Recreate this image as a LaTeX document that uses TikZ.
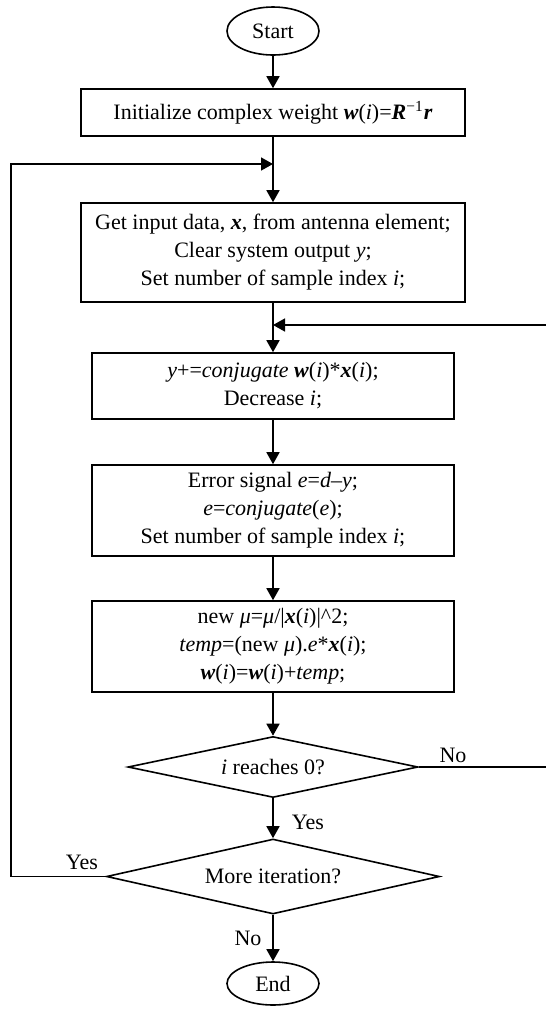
\documentclass[tikz,border=0pt]{standalone}
\usepackage{fontspec}
\setmainfont{Liberation Serif}
\usepackage{tikz}
\usetikzlibrary{arrows.meta,shapes}
\tikzstyle{block}=[draw,rectangle,line width=0.8pt,align=center,inner sep=2pt]
\tikzstyle{term}=[draw,ellipse,line width=0.8pt,inner sep=0pt,minimum width=46pt]
\tikzstyle{decision}=[draw,diamond,line width=0.8pt,inner sep=0pt]
\tikzstyle{lbl}=[inner sep=0pt]
\tikzstyle{edge} = [draw,line width=0.8pt,-{Triangle[length=6pt,width=6.5pt]}]
\newcommand{\vect}[1]{\textbf{\textit{#1}}}

\begin{document}
\begin{tikzpicture}[x=0.5pt,y=-0.5pt,font=\fontsize{11}{14}\selectfont]
  \useasboundingbox (0,0) rectangle (546,1009);
  % main column
  \node[term,minimum height=24pt] (start) at (273,31) {Start};
  \node[block,minimum width=192pt,minimum height=23.5pt] (init) at (273,112.5)
    {Initialize complex weight \vect{w}(\textit{i})=\vect{R}\textsuperscript{−1}\vect{r}};
  \node[block,minimum width=192pt,minimum height=49.5pt] (getin) at (273,252.5)
    {Get input data, \vect{x}, from antenna element;\\
     Clear system output \textit{y};\\
     Set number of sample index \textit{i};};
  \node[block,minimum width=181pt,minimum height=33pt] (accum) at (273,386)
    {\textit{y}+=\textit{conjugate} \vect{w}(\textit{i})*\vect{x}(\textit{i});\\
     Decrease \textit{i};};
  \node[block,minimum width=181pt,minimum height=45.5pt] (err) at (273,510.5)
    {Error signal \textit{e}=\textit{d}–\textit{y};\\
     \textit{e}=\textit{conjugate}(\textit{e});\\
     Set number of sample index \textit{i};};
  \node[block,minimum width=181pt,minimum height=45.5pt] (update) at (273,646.5)
    {new \textit{μ}=\textit{μ}/|\vect{x}(\textit{i})|\textasciicircum 2;\\
     \textit{temp}=(new \textit{μ}).\textit{e}*\vect{x}(\textit{i});\\
     \vect{w}(\textit{i})=\vect{w}(\textit{i})+\textit{temp};};
  \node[decision,aspect=4.75,minimum width=145pt,minimum height=30.5pt] (reach) at (273,767)
    {\textit{i} reaches 0?};
  \node[decision,aspect=4.4,minimum width=166.5pt,minimum height=37.5pt] (more) at (273,876.5)
    {More iteration?};
  \node[term,minimum height=21.5pt] (end) at (273,983.5) {End};

  % loop joints
  \coordinate (j1) at (273,164);
  \coordinate (lc) at (11,164);
  \coordinate (j2) at (273,325);
  \coordinate (rc) at (552,325);

  \draw[edge] (start) -- (init);
  \draw[edge] (init) -- (getin);
  \draw[edge] (getin) -- (accum);
  \draw[edge] (accum) -- (err);
  \draw[edge] (err) -- (update);
  \draw[edge] (update) -- (reach);
  \draw[edge] (reach) -- (more);
  \draw[edge] (more) -- (end);
  \draw[edge] (reach.east) -| (rc) -- (j2);
  \draw[edge] (more.west) -| (lc) -- (j1);

  % branch labels
  \node[lbl] (no1) at (453,755) {No};
  \node[lbl] (yes1) at (308,822) {Yes};
  \node[lbl] (yes2) at (82,862) {Yes};
  \node[lbl] (no2) at (248,938) {No};
\end{tikzpicture}
\end{document}
